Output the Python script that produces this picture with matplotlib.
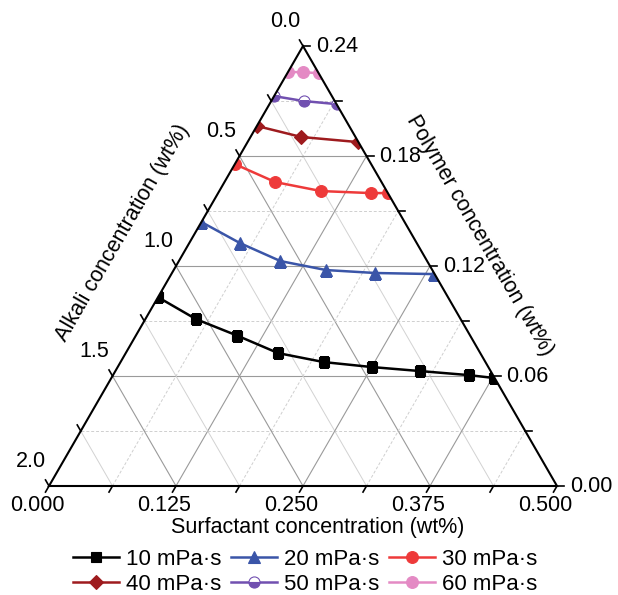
import numpy as np
import matplotlib.pyplot as plt
from matplotlib.patches import Polygon

plt.rcParams['font.family'] = ['Liberation Sans', 'DejaVu Sans']

# full scale of each axis (wt%)
ALK_MAX = 2.0
SURF_MAX = 0.5
POLY_MAX = 0.24

labels = ['10 mPa·s', '20 mPa·s', '30 mPa·s', '40 mPa·s', '50 mPa·s', '60 mPa·s']

# surfactant / polymer, alkali is the remainder
surf_10 = [0.0, 0.05, 0.10, 0.15, 0.20, 0.25, 0.30, 0.35, 0.377]
poly_10 = [0.103, 0.091, 0.082, 0.0725, 0.0676, 0.0649, 0.0627, 0.0605, 0.0589]
surf_20 = [0.0, 0.05, 0.10, 0.15, 0.20, 0.259]
poly_20 = [0.144, 0.1325, 0.1227, 0.1178, 0.1162, 0.1156]
surf_30 = [0.0, 0.05, 0.10, 0.15, 0.167]
poly_30 = [0.1756, 0.1658, 0.1609, 0.1598, 0.1598]
surf_40 = [0.0, 0.05, 0.109]
poly_40 = [0.1964, 0.1904, 0.1876]
surf_50 = [0.0, 0.032, 0.066]
poly_50 = [0.2127, 0.2100, 0.2084]
surf_60 = [0.0, 0.015, 0.031]
poly_60 = [0.2258, 0.2258, 0.2253]

colors = ['black', '#3a55a8', '#ee3a3a', '#9e1b1e', '#7150b0', '#e48ac4']
markers = ['s', '^', 'o', 'D', 'o', 'o']
msizes = [7.5, 9, 8.5, 7.5, 8, 8.5]

H = np.sqrt(3) / 2
PX = 1 / 508.0  # one pixel in triangle units


def tern(alk, surf, poly):
    a = np.asarray(alk) / ALK_MAX
    s = np.asarray(surf) / SURF_MAX
    p = np.asarray(poly) / POLY_MAX
    tot = a + s + p
    s, p = s / tot, p / tot
    return s + p / 2, p * H


def px(X, Y):
    return (X - 49) * PX, (486 - Y) * PX


fig = plt.figure(figsize=(6.18, 5.95), dpi=100)
ax = fig.add_axes([0, 0, 1, 1])
ax.set_xlim(-49 * PX, (618 - 49) * PX)
ax.set_ylim((486 - 595) * PX, 486 * PX)
ax.axis('off')

tri = Polygon([[0, 0], [1, 0], [0.5, H]], closed=True, fill=False,
              edgecolor='black', lw=1.5, zorder=5)
ax.add_patch(tri)

# grid
for k in range(1, 8):
    f = k / 8
    if k % 2 == 0:
        sty = dict(color='#9a9a9a', lw=0.8, ls='-')
        sty_a = sty
    else:
        sty = dict(color='#cfcfcf', lw=0.7, ls=(0, (3, 2)))
        sty_a = dict(color='#d2d2d2', lw=0.7, ls='-')
    ax.plot([f / 2, 1 - f / 2], [f * H, f * H], zorder=1, **sty)
    ax.plot([f, f + (1 - f) / 2], [0, (1 - f) * H], zorder=1, **sty)
    ax.plot([1 - f, (1 - f) / 2], [0, (1 - f) * H], zorder=1, **sty_a)

# ticks and tick labels
tl = 7 * PX
fs = 15.5
for k in range(9):
    f = k / 8
    # bottom: surfactant
    d = np.array([-0.5, -H])
    p0 = np.array([f, 0])
    ax.plot(*zip(p0, p0 + d * tl), color='black', lw=1.2, zorder=5)
    if k % 2 == 0:
        lp = p0 + d * 23 * PX
        ax.text(lp[0], lp[1], f'{f * SURF_MAX:.3f}', fontsize=fs, ha='center', va='center')
    # left: alkali (0 at top)
    d = np.array([-0.5, H])
    p0 = np.array([(1 - f) / 2, (1 - f) * H])
    ax.plot(*zip(p0, p0 + d * tl), color='black', lw=1.2, zorder=5)
    if k % 2 == 0:
        lp = p0 + d * 28 * PX + np.array([-4 * PX, 0])
        ax.text(lp[0], lp[1], f'{f * ALK_MAX:.1f}', fontsize=fs, ha='center', va='center')
    # right: polymer
    d = np.array([1.0, 0])
    p0 = np.array([1 - f / 2, f * H])
    ax.plot(*zip(p0, p0 + d * tl), color='black', lw=1.2, zorder=5)
    if k % 2 == 0:
        ax.text(p0[0] + 13 * PX, p0[1], f'{f * POLY_MAX:.2f}', fontsize=fs, ha='left', va='center')

# axis titles
x, y = px(318, 527)
ax.text(x, y, 'Surfactant concentration (wt%)', fontsize=fs, ha='center', va='center')
x, y = px(123, 233)
ax.text(x, y, 'Alkali concentration (wt%)', fontsize=fs, ha='center', va='center',
        rotation=60, rotation_mode='anchor')
x, y = px(480, 235)
ax.text(x, y, 'Polymer concentration (wt%)', fontsize=fs, ha='center', va='center',
        rotation=-60, rotation_mode='anchor')

# series
series = [(surf_10, poly_10), (surf_20, poly_20), (surf_30, poly_30),
          (surf_40, poly_40), (surf_50, poly_50), (surf_60, poly_60)]
handles = []
for i, (surf, poly) in enumerate(series):
    surf = np.array(surf)
    poly = np.array(poly)
    alk = np.clip(ALK_MAX * (1 - surf / SURF_MAX - poly / POLY_MAX), 0, None)
    xs, ys = tern(alk, surf, poly)
    kw = dict(color=colors[i], lw=1.8, marker=markers[i], ms=msizes[i],
              markeredgewidth=0.8, markeredgecolor=colors[i])
    if i == 4:
        kw.update(fillstyle='bottom', markerfacecolor=colors[i], markerfacecoloralt='white')
    ln, = ax.plot(xs, ys, label=labels[i], zorder=4, **kw)
    ln.set_clip_path(tri)
    handles.append(ln)

order = [0, 3, 1, 4, 2, 5]
fig.legend([handles[j] for j in order], [labels[j] for j in order], ncol=3,
           loc='center', bbox_to_anchor=(305 / 618, 1 - 572 / 595), frameon=False,
           fontsize=16, handlelength=2.1, handletextpad=0.3, columnspacing=0.42,
           labelspacing=0.2)

fig.savefig('out.png', dpi=100)
